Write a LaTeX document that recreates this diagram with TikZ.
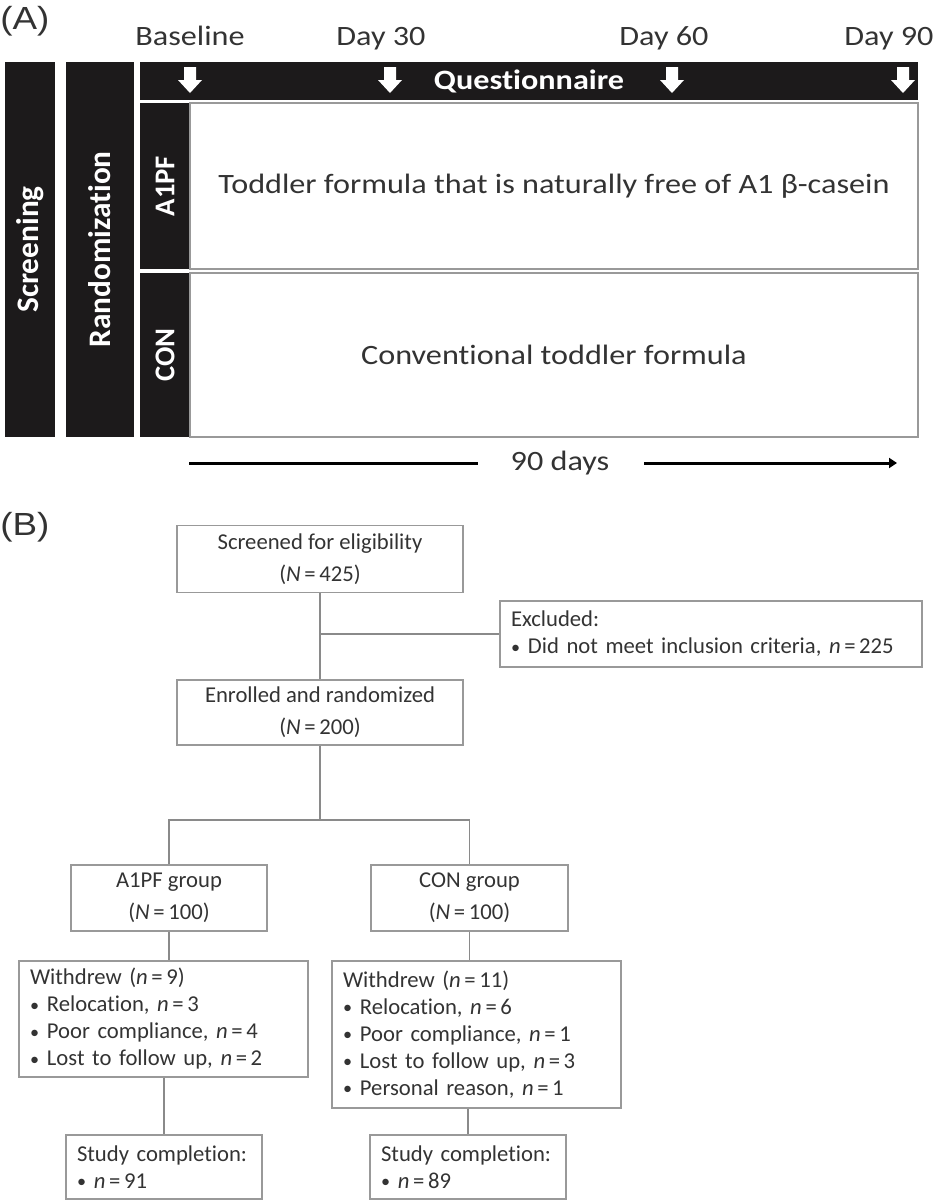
\documentclass[tikz,border=0pt]{standalone}
\usepackage{fontspec}
\setmainfont{Carlito}[FakeStretch=1.15,Ligatures=CommonOff]
\newfontfamily\rotfont{Carlito}[Ligatures=CommonOff]
\newfontfamily\bfont{Carlito}[Ligatures=CommonOff]
\newfontfamily\labfont{Liberation Sans}[FakeStretch=1.15]
\usetikzlibrary{arrows.meta}
\definecolor{barblack}{HTML}{1C1A1B}
\definecolor{txtgray}{HTML}{333333}
\definecolor{edgegray}{HTML}{999999}
\definecolor{linegray}{HTML}{8A8A8A}
\newcommand\bul{\raisebox{0.05ex}{\scalebox{0.8}{•}}\hspace{0.35em}}
\newcommand\eq{\hspace{0.16em}=\hspace{0.16em}}
\begin{document}
\begin{tikzpicture}[x=0.75pt,y=-0.75pt,
  sz/.style 2 args={minimum width=#1*0.75pt, minimum height=#2*0.75pt},
  bar/.style={fill=barblack, text=white, inner sep=0pt},
  barlab/.style={bar, rotate=90, font=\rotfont\bfseries\fontsize{23.5}{28}\selectfont},
  armlab/.style={bar, rotate=90, font=\rotfont\bfseries\fontsize{21.5}{26}\selectfont},
  armbox/.style={draw=edgegray, line width=1pt, fill=white, text=txtgray, font=\fontsize{21}{25}\selectfont, inner sep=0pt},
  tick/.style={text=txtgray, font=\fontsize{21}{25}\selectfont, anchor=base, inner sep=0pt},
  panel/.style={text=txtgray, font=\labfont\fontsize{24}{28}\selectfont, anchor=west, inner sep=0pt},
  fbox/.style={draw=edgegray, line width=1pt, text=txtgray, font=\bfont\fontsize{17}{24}\selectfont, align=center, inner sep=0pt},
  lbox/.style={draw=edgegray, line width=1pt, text=txtgray, font=\bfont\fontsize{17}{20.25}\selectfont, align=left, inner ysep=0pt, inner xsep=8.25pt, text width=#1},
  conn/.style={draw=linegray, line width=1pt},
  qarrow/.pic={\fill[white] (-6,0) -- (6,0) -- (6,13) -- (12,13) -- (0,26) -- (-12,13) -- (-6,13) -- cycle;},
]
\useasboundingbox (0,0) rectangle (934,1200);

% ---------- Panel A ----------
\node[panel] (pA) at (0,21) {(A)};
\node[tick] (tbase) at (190,45) {Baseline};
\node[tick] (t30) at (381,45) {Day 30};
\node[tick] (t60) at (664,45) {Day 60};
\node[tick] (t90) at (889,45) {Day 90};

\node[barlab, sz={375}{50}] (scrbar) at (30,249.5) {Screening};
\node[barlab, sz={375}{68}] (rndbar) at (100,249.5) {Randomization};
\node[bar, sz={778}{38}, font=\bfseries\fontsize{21}{25}\selectfont] (qbar) at (529,81) {Questionnaire};
\pic at (190,67) {qarrow};
\pic at (390,67) {qarrow};
\pic at (672,67) {qarrow};
\pic at (903,67) {qarrow};

\node[armlab, sz={166}{50}] (a1lab) at (165,186) {A1PF};
\node[armbox, sz={728}{166}] (a1box) at (554,186) {Toddler formula that is naturally free of A1 β-casein};
\node[armlab, sz={164}{50}] (conlab) at (165,355) {CON};
\node[armbox, sz={728}{164}] (conbox) at (554,355) {Conventional toddler formula};

\node[tick, anchor=center] (days) at (560,463) {90 days};
\coordinate (d0) at (189,463);
\coordinate (d1) at (897,463);
\draw[line width=2.25pt, shorten >=24pt] (d0) -- (days.west);
\draw[line width=2.25pt, -{Triangle[length=6pt,width=7.5pt]}, shorten <=26pt] (days.east) -- (d1);

% ---------- Panel B ----------
\node[panel] (pB) at (0,527) {(B)};
\node[fbox, sz={286}{67}] (scrn) at (320,559) {Screened for eligibility\\(\textit{N}\eq425)};
\node[lbox=300pt, minimum height=66*0.75pt] (exc) at (711,634) {Excluded:\\\bul Did not meet inclusion criteria, \textit{n}\eq225};
\node[fbox, sz={286}{65}] (enr) at (320,712.5) {Enrolled and randomized\\(\textit{N}\eq200)};
\node[fbox, sz={196}{66}] (a1g) at (169,898) {A1PF group\\(\textit{N}\eq100)};
\node[fbox, sz={197}{66}] (cong) at (469.5,898) {CON group\\(\textit{N}\eq100)};
\node[lbox=200.25pt, minimum height=116*0.75pt] (wa) at (163.5,1019) {Withdrew (\textit{n}\eq9)\\\bul Relocation, \textit{n}\eq3\\\bul Poor compliance, \textit{n}\eq4\\\bul Lost to follow up, \textit{n}\eq2};
\node[lbox=200.25pt, minimum height=147*0.75pt] (wc) at (476.5,1034.5) {Withdrew (\textit{n}\eq11)\\\bul Relocation, \textit{n}\eq6\\\bul Poor compliance, \textit{n}\eq1\\\bul Lost to follow up, \textit{n}\eq3\\\bul Personal reason, \textit{n}\eq1};
\node[lbox=130.5pt, minimum height=64*0.75pt] (sa) at (164,1167) {Study completion:\\\bul \textit{n}\eq91};
\node[lbox=130.5pt, minimum height=64*0.75pt] (sc) at (468,1167) {Study completion:\\\bul \textit{n}\eq89};

\draw[conn] (scrn.south) -- (enr.north);
\draw[conn] (scrn.south |- exc.west) -- (exc.west);
\coordinate (split) at (320,820);
\draw[conn] (enr.south) -- (split);
\draw[conn] (a1g.north) |- (split) -| (cong.north);
\draw[conn] (a1g.south) -- (a1g.south |- wa.north);
\draw[conn] (sa.north |- wa.south) -- (sa.north);
\draw[conn] (cong.south) -- (cong.south |- wc.north);
\draw[conn] (sc.north |- wc.south) -- (sc.north);
\end{tikzpicture}
\end{document}
